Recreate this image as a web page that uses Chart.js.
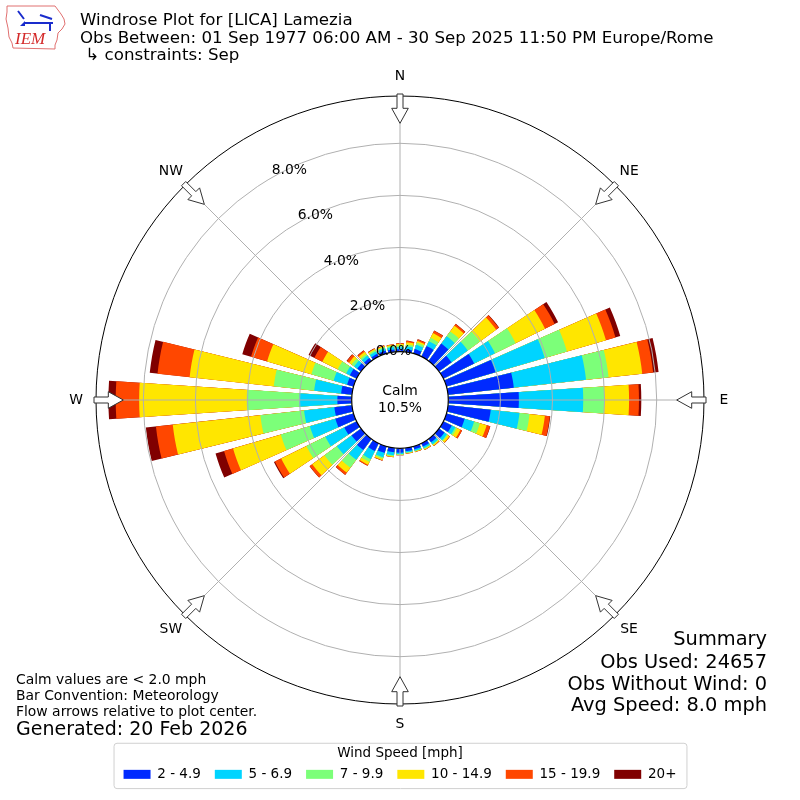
<!DOCTYPE html>
<html>
<head>
<meta charset="utf-8">
<title>Windrose Plot for [LICA] Lamezia</title>
<script src="https://cdn.jsdelivr.net/npm/chart.js@4.4.1/dist/chart.umd.min.js"></script>
<style>
  html, body { margin: 0; padding: 0; background: #ffffff; }
  #wrap { width: 800px; height: 800px; }
</style>
</head>
<body>
<div id="wrap"><canvas id="rosa" width="800" height="800"></canvas></div>
<script>
// Datos: porcentaje de observaciones por dirección (de donde sopla) y rango de velocidad
const direcciones = [0, 10, 20, 30, 40, 50, 60, 70, 80, 90, 100, 110, 120, 130, 140, 150, 160, 170,
                     180, 190, 200, 210, 220, 230, 240, 250, 260, 270, 280, 290, 300, 310, 320, 330, 340, 350];
const compassLabels = ['N', 'NE', 'E', 'SE', 'S', 'SW', 'W', 'NW'];
const speedBins = ['2 - 4.9', '5 - 6.9', '7 - 9.9', '10 - 14.9', '15 - 19.9', '20+'];

const speed2to5   = [0.10, 0.10, 0.18, 0.46, 0.83, 0.60, 1.32, 1.96, 2.54, 2.71, 1.65, 0.73, 0.36, 0.26, 0.16, 0.14, 0.12, 0.12,
                     0.17, 0.16, 0.26, 0.33, 0.53, 0.45, 0.53, 0.73, 0.68, 0.55, 0.42, 0.26, 0.29, 0.18, 0.14, 0.12, 0.12, 0.10];
const speed5to7   = [0.08, 0.12, 0.17, 0.20, 0.35, 0.77, 0.89, 1.97, 2.79, 2.47, 1.11, 0.38, 0.15, 0.12, 0.09, 0.07, 0.06, 0.05,
                     0.05, 0.12, 0.17, 0.35, 0.46, 0.70, 0.81, 1.02, 1.17, 1.47, 1.04, 0.54, 0.16, 0.15, 0.12, 0.10, 0.09, 0.09];
const speed7to10  = [0.06, 0.07, 0.08, 0.15, 0.23, 0.58, 0.88, 0.89, 0.87, 0.81, 0.39, 0.23, 0.07, 0.04, 0.03, 0.03, 0.02, 0.02,
                     0.03, 0.04, 0.06, 0.12, 0.38, 0.59, 0.81, 1.16, 1.69, 2.01, 1.56, 0.89, 0.36, 0.12, 0.08, 0.06, 0.05, 0.05];
const speed10to15 = [0.06, 0.09, 0.07, 0.20, 0.27, 0.77, 1.26, 1.56, 1.30, 0.95, 0.59, 0.27, 0.15, 0.08, 0.04, 0.03, 0.02, 0.02,
                     0.01, 0.03, 0.06, 0.12, 0.23, 0.58, 1.08, 1.91, 3.38, 4.13, 3.25, 1.77, 0.66, 0.12, 0.10, 0.05, 0.04, 0.04];
const speed15to20 = [0.03, 0.05, 0.06, 0.10, 0.08, 0.12, 0.41, 0.38, 0.42, 0.38, 0.19, 0.14, 0.07, 0.02, 0.02, 0.01, 0.01, 0.01,
                     0.01, 0.01, 0.02, 0.04, 0.10, 0.12, 0.27, 0.36, 0.65, 0.90, 1.24, 0.64, 0.34, 0.10, 0.06, 0.02, 0.02, 0.02];
const speed20plus = [0.00, 0.01, 0.01, 0.01, 0.01, 0.02, 0.15, 0.19, 0.21, 0.09, 0.02, 0.01, 0.00, 0.00, 0.00, 0.00, 0.00, 0.00,
                     0.00, 0.00, 0.00, 0.00, 0.01, 0.01, 0.04, 0.34, 0.39, 0.28, 0.30, 0.35, 0.25, 0.02, 0.01, 0.01, 0.01, 0.00];

const calmPct = 10.5;
const tickValues = [0, 2, 4, 6, 8];
const rMin = -1.854;
const rMax = 9.816;

const titleLines = [
    'Windrose Plot for [LICA] Lamezia',
    'Obs Between: 01 Sep 1977 06:00 AM - 30 Sep 2025 11:50 PM Europe/Rome',
    ' \u21b3 constraints: Sep'
];
const notesLines = ['Calm values are < 2.0 mph', 'Bar Convention: Meteorology', 'Flow arrows relative to plot center.'];
const generatedText = 'Generated: 20 Feb 2026';
const summaryLines = ['Summary', 'Obs Used: 24657', 'Obs Without Wind: 0', 'Avg Speed: 8.0 mph'];

// Estilo
const binColors = ['#002aff', '#00d4ff', '#7cff79', '#ffe600', '#ff4700', '#800000'];
const barDeg = 7.6;
const gapDeg = 2.4;
const fuente = "'DejaVu Sans', sans-serif";

// Cada barra ocupa barDeg y se separa con un hueco transparente; la barra N se parte en dos mitades
const slots = [{ dir: 0, angle: barDeg / 2 }];
for (let k = 1; k < direcciones.length; k++) {
    slots.push({ dir: -1, angle: gapDeg });
    slots.push({ dir: k, angle: barDeg });
}
slots.push({ dir: -1, angle: gapDeg });
slots.push({ dir: 0, angle: barDeg / 2 });

// Valores acumulados para apilar los rangos de velocidad
const series = [speed2to5, speed5to7, speed7to10, speed10to15, speed15to20, speed20plus];
const acumulado = [];
series.forEach((serie, j) => {
    acumulado.push(serie.map((v, k) => (j > 0 ? acumulado[j - 1][k] : 0) + v));
});

const datasets = series.map((serie, j) => ({
    label: speedBins[j],
    data: slots.map(s => s.dir < 0 ? 0 : acumulado[j][s.dir]),
    backgroundColor: slots.map(s => s.dir < 0 ? 'rgba(0,0,0,0)' : binColors[j]),
    borderWidth: 0,
    angle: (c) => slots[c.dataIndex].angle
}));

function dibujarLogo(ctx) {
    ctx.save();
    const contorno = [[7, 6], [55, 6], [58, 10], [61, 14], [64, 19], [65, 24], [62, 29], [58, 33], [57, 40],
                      [55, 45], [55, 49], [13, 48], [12, 43], [9, 37], [8, 28], [6, 19], [7, 12]];
    ctx.strokeStyle = '#e07070';
    ctx.lineWidth = 1;
    ctx.beginPath();
    contorno.forEach(([x, y], i) => i ? ctx.lineTo(x, y) : ctx.moveTo(x, y));
    ctx.closePath();
    ctx.stroke();

    ctx.strokeStyle = '#1a2ccc';
    ctx.fillStyle = '#1a2ccc';
    ctx.lineWidth = 2;
    ctx.beginPath();
    ctx.moveTo(24, 23); ctx.lineTo(53, 23);
    ctx.moveTo(18, 11); ctx.lineTo(24, 19);
    ctx.moveTo(40, 15); ctx.lineTo(52, 19);
    ctx.moveTo(50, 24); ctx.lineTo(50, 31);
    ctx.stroke();
    ctx.beginPath();
    ctx.moveTo(20, 26); ctx.lineTo(25, 21); ctx.lineTo(25, 26); ctx.closePath();
    ctx.fill();

    ctx.fillStyle = '#d42a2a';
    ctx.font = "italic 17px 'Liberation Serif', serif";
    ctx.textAlign = 'left';
    ctx.textBaseline = 'alphabetic';
    ctx.fillText('IEM', 15, 44);
    ctx.restore();
}

// Decoraciones: círculo de calmas, etiquetas de anillos, flechas, textos y marco de la leyenda
const decoraciones = {
    id: 'decoraciones',
    afterDraw(chart) {
        const ctx = chart.ctx;
        const r = chart.scales.r;
        const cx = r.xCenter;
        const cy = r.yCenter;
        const R = r.drawingArea;

        ctx.save();

        // Círculo de calmas
        const calmR = r.getDistanceFromCenterForValue(0);
        ctx.beginPath();
        ctx.arc(cx, cy, calmR, 0, Math.PI * 2);
        ctx.fillStyle = '#ffffff';
        ctx.fill();
        ctx.lineWidth = 1.2;
        ctx.strokeStyle = '#000000';
        ctx.stroke();

        ctx.fillStyle = '#000000';
        ctx.font = '13.9px ' + fuente;
        ctx.textAlign = 'center';
        ctx.textBaseline = 'middle';
        ctx.fillText('Calm', cx, cy - 9);
        ctx.fillText(calmPct.toFixed(1) + '%', cx, cy + 8);

        // Etiquetas de porcentaje a lo largo de 330 grados
        const aTick = -Math.PI / 2 - Math.PI / 6;
        ctx.textAlign = 'left';
        ctx.textBaseline = 'bottom';
        r.ticks.forEach(t => {
            if (!tickValues.includes(t.value)) return;
            const d = r.getDistanceFromCenterForValue(t.value);
            ctx.fillText(t.value.toFixed(1) + '%', cx + d * Math.cos(aTick), cy + d * Math.sin(aTick));
        });

        // Flechas huecas y etiquetas cardinales
        chart.data.labels.forEach((lab, i) => {
            const a = r.getIndexAngle(i) - Math.PI / 2;
            const ca = Math.cos(a), sa = Math.sin(a);
            const p = (u, v) => [cx + u * ca - v * sa, cy + u * sa + v * ca];
            const puntos = [p(R + 2, -3), p(R - 12.3, -3), p(R - 12.3, -8.3), p(R - 27.3, 0),
                            p(R - 12.3, 8.3), p(R - 12.3, 3), p(R + 2, 3)];
            ctx.beginPath();
            puntos.forEach(([x, y], k) => k ? ctx.lineTo(x, y) : ctx.moveTo(x, y));
            ctx.closePath();
            ctx.fillStyle = '#ffffff';
            ctx.fill();
            ctx.lineWidth = 1;
            ctx.strokeStyle = '#333333';
            ctx.stroke();

            const pos = r.getPointPosition(i, R + 20);
            ctx.fillStyle = '#000000';
            ctx.font = '13.9px ' + fuente;
            ctx.textAlign = 'center';
            ctx.textBaseline = 'middle';
            ctx.fillText(lab, pos.x, pos.y);
        });

        // Notas abajo a la izquierda
        ctx.textAlign = 'left';
        ctx.textBaseline = 'middle';
        ctx.font = '13.9px ' + fuente;
        notesLines.forEach((t, i) => ctx.fillText(t, 16, 680 + i * 16));
        ctx.font = '19px ' + fuente;
        ctx.fillText(generatedText, 16, 730);

        // Resumen abajo a la derecha
        ctx.textAlign = 'right';
        ctx.font = '19.4px ' + fuente;
        const ySummary = [640, 663, 685, 706];
        summaryLines.forEach((t, i) => ctx.fillText(t, 767, ySummary[i]));

        // Marco de la leyenda
        const lg = chart.legend;
        const cajas = lg.legendHitBoxes;
        if (cajas && cajas.length) {
            const x0 = Math.min(...cajas.map(b => b.left)) - 10;
            const x1 = Math.max(...cajas.map(b => b.left + b.width)) + 10;
            const y0 = lg.top + 38.7;
            const y1 = cajas[0].top + cajas[0].height + 7;
            ctx.beginPath();
            ctx.roundRect(x0 + 0.5, y0 + 0.5, x1 - x0, y1 - y0, 3);
            ctx.lineWidth = 1;
            ctx.strokeStyle = '#d0d0d0';
            ctx.stroke();
        }

        dibujarLogo(ctx);
        ctx.restore();
    }
};

Chart.defaults.font.family = fuente;
Chart.defaults.color = '#000000';

const chart = new Chart(document.getElementById('rosa'), {
    type: 'polarArea',
    data: {
        labels: compassLabels,
        datasets: datasets
    },
    options: {
        responsive: false,
        animation: false,
        events: [],
        layout: {
            padding: { top: 0, left: 80, right: 80, bottom: 8.9 }
        },
        scales: {
            r: {
                type: 'radialLinear',
                min: rMin,
                max: rMax,
                startAngle: 0,
                ticks: { display: false },
                afterBuildTicks: (s) => {
                    s.ticks = tickValues.concat([rMax]).map(v => ({ value: v }));
                },
                grid: {
                    circular: true,
                    z: 1,
                    lineWidth: 1,
                    color: (c) => c.tick && c.tick.value === rMax ? '#000000' : '#b0b0b0'
                },
                angleLines: { display: true, color: '#b0b0b0', lineWidth: 1 },
                pointLabels: { display: false }
            }
        },
        plugins: {
            tooltip: { enabled: false },
            title: {
                display: true,
                text: titleLines,
                align: 'start',
                color: '#000000',
                font: { size: 16.67, weight: 'normal', lineHeight: 1.04 },
                padding: { top: 12.35, bottom: 31.6 }
            },
            legend: {
                display: true,
                position: 'bottom',
                title: {
                    display: true,
                    text: 'Wind Speed [mph]',
                    color: '#000000',
                    font: { size: 13.5 },
                    padding: { top: 42.5, bottom: -9.15 }
                },
                labels: {
                    color: '#000000',
                    font: { size: 13.5 },
                    boxWidth: 27,
                    boxHeight: 9,
                    padding: 14,
                    generateLabels: (c) => c.data.datasets.map((ds, i) => ({
                        text: ds.label,
                        fillStyle: binColors[i],
                        strokeStyle: binColors[i],
                        lineWidth: 0,
                        hidden: false,
                        datasetIndex: i
                    }))
                }
            }
        }
    },
    plugins: [decoraciones]
});
</script>
</body>
</html>
